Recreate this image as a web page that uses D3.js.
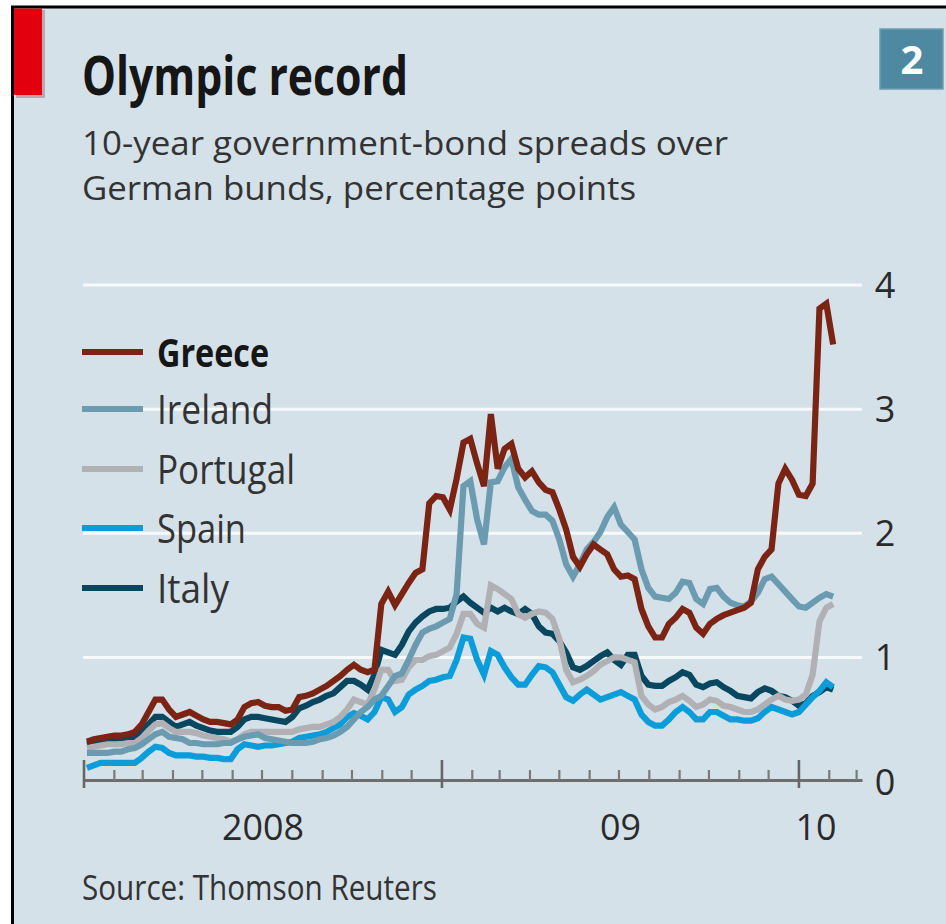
<!DOCTYPE html>
<html>
<head>
<meta charset="utf-8">
<script src="https://cdn.jsdelivr.net/npm/d3@7"></script>
<style>
  html, body { margin: 0; padding: 0; background: #ffffff; }
  svg { display: block; }
  text { font-family: "Open Sans", "Noto Sans", sans-serif; }
</style>
</head>
<body>
<svg id="chart" width="946" height="924"></svg>
<script>
// ---- Data: 10-year bond spreads over German bunds (percentage points), weekly from 4 Jan 2008 ----
const firstWeek = Date.UTC(2008, 0, 4);

const countries = ["Greece", "Ireland", "Portugal", "Spain", "Italy"];
const colours   = ["#7b2414", "#6a9bb0", "#b1b1b5", "#0a9dd9", "#07475f"];

const greece = [
  0.32,0.34,0.35,0.36,0.37,0.37,0.38,0.40,0.46,0.56,
  0.66,0.66,0.58,0.52,0.54,0.56,0.53,0.50,0.48,0.48,
  0.47,0.46,0.50,0.60,0.63,0.64,0.61,0.60,0.60,0.57,
  0.58,0.68,0.69,0.71,0.74,0.77,0.81,0.85,0.90,0.94,
  0.90,0.88,0.90,1.43,1.53,1.42,1.51,1.60,1.68,1.71,
  2.24,2.30,2.29,2.19,2.44,2.73,2.76,2.56,2.38,2.96,
  2.52,2.68,2.72,2.52,2.45,2.50,2.41,2.35,2.33,2.19,
  2.03,1.81,1.73,1.83,1.91,1.87,1.83,1.71,1.65,1.66,
  1.63,1.39,1.25,1.16,1.16,1.27,1.32,1.39,1.36,1.24,
  1.19,1.27,1.31,1.34,1.36,1.38,1.40,1.44,1.71,1.81,
  1.87,2.40,2.52,2.43,2.31,2.30,2.40,3.81,3.85,3.52
];
const ireland = [
  0.23,0.23,0.23,0.23,0.24,0.24,0.26,0.27,0.30,0.34,
  0.38,0.40,0.36,0.35,0.34,0.31,0.31,0.30,0.30,0.30,
  0.31,0.31,0.34,0.36,0.37,0.38,0.35,0.34,0.33,0.32,
  0.31,0.31,0.31,0.32,0.34,0.35,0.37,0.40,0.44,0.50,
  0.56,0.60,0.66,0.69,0.77,0.85,0.87,0.98,1.10,1.20,
  1.23,1.25,1.28,1.31,1.51,2.38,2.42,2.11,1.91,2.41,
  2.42,2.53,2.60,2.37,2.27,2.18,2.15,2.15,2.10,1.95,
  1.75,1.65,1.75,1.87,1.93,2.01,2.13,2.21,2.07,2.01,
  1.95,1.71,1.56,1.49,1.48,1.47,1.52,1.61,1.60,1.47,
  1.43,1.55,1.56,1.49,1.44,1.42,1.41,1.45,1.52,1.63,
  1.65,1.59,1.53,1.47,1.41,1.40,1.44,1.48,1.51,1.49
];
const portugal = [
  0.27,0.28,0.29,0.30,0.30,0.30,0.31,0.31,0.35,0.41,
  0.46,0.47,0.43,0.40,0.40,0.40,0.39,0.37,0.36,0.35,
  0.34,0.32,0.34,0.38,0.40,0.40,0.40,0.40,0.40,0.40,
  0.40,0.42,0.43,0.44,0.44,0.46,0.48,0.52,0.58,0.66,
  0.64,0.62,0.74,0.90,0.90,0.81,0.82,0.92,0.98,0.98,
  1.01,1.02,1.05,1.08,1.19,1.35,1.35,1.27,1.24,1.58,
  1.55,1.51,1.47,1.35,1.32,1.35,1.37,1.36,1.31,1.15,
  0.90,0.80,0.82,0.85,0.89,0.94,0.97,1.00,1.00,0.98,
  0.96,0.69,0.62,0.58,0.60,0.64,0.66,0.69,0.65,0.60,
  0.62,0.66,0.65,0.61,0.60,0.58,0.56,0.56,0.58,0.62,
  0.66,0.69,0.66,0.65,0.66,0.70,0.86,1.29,1.40,1.43
];
const spain = [
  0.11,0.13,0.15,0.15,0.15,0.15,0.15,0.15,0.19,0.24,
  0.28,0.27,0.23,0.21,0.21,0.21,0.20,0.20,0.19,0.19,
  0.18,0.18,0.26,0.30,0.29,0.28,0.29,0.29,0.30,0.31,
  0.32,0.35,0.36,0.37,0.38,0.40,0.43,0.46,0.52,0.55,
  0.53,0.50,0.56,0.68,0.66,0.56,0.60,0.70,0.74,0.77,
  0.81,0.82,0.84,0.85,0.98,1.16,1.15,0.98,0.86,1.05,
  1.02,0.92,0.84,0.78,0.78,0.86,0.93,0.92,0.88,0.78,
  0.68,0.65,0.70,0.74,0.70,0.66,0.68,0.70,0.72,0.69,
  0.66,0.54,0.48,0.45,0.45,0.50,0.56,0.60,0.56,0.50,
  0.50,0.56,0.56,0.53,0.50,0.50,0.49,0.49,0.51,0.56,
  0.60,0.58,0.56,0.54,0.56,0.62,0.68,0.73,0.80,0.76
];
const italy = [
  0.30,0.31,0.32,0.33,0.34,0.35,0.35,0.36,0.40,0.46,
  0.52,0.52,0.48,0.44,0.46,0.48,0.45,0.43,0.41,0.40,
  0.40,0.40,0.44,0.50,0.52,0.52,0.51,0.50,0.49,0.48,
  0.52,0.59,0.61,0.64,0.66,0.69,0.71,0.76,0.81,0.81,
  0.78,0.74,0.86,1.06,1.04,1.02,1.10,1.21,1.28,1.33,
  1.37,1.39,1.39,1.40,1.45,1.49,1.44,1.40,1.36,1.40,
  1.37,1.40,1.37,1.35,1.39,1.35,1.25,1.20,1.19,1.13,
  1.04,0.92,0.90,0.93,0.97,1.01,1.04,0.98,0.94,1.02,
  1.02,0.85,0.78,0.77,0.77,0.81,0.84,0.88,0.86,0.78,
  0.76,0.79,0.80,0.76,0.73,0.69,0.68,0.67,0.72,0.75,
  0.73,0.69,0.68,0.65,0.61,0.63,0.69,0.72,0.76,0.74
];

const seriesValues = [greece, ireland, portugal, spain, italy];
const yTicks = [0, 1, 2, 3, 4];
const yearLabels = ["2008", "09", "10"];

const title = "Olympic record";
const subtitle = ["10-year government-bond spreads over", "German bunds, percentage points"];
const source = "Source: Thomson Reuters";
const panelNumber = "2";

// ---- Build the weekly records ----
const dayMs = 86400000;
const weekDates = greece.map((_, i) => new Date(firstWeek + i * 7 * dayMs));
const series = countries.map((name, c) => ({
  name,
  colour: colours[c],
  points: seriesValues[c].map((v, i) => ({ date: weekDates[i], value: v }))
}));

// ---- Layout ----
const svg = d3.select("#chart");
const W = 946, H = 924;
const bg = "#d5e1e9";
const textDark = "#2a2a2a";

// panel background and frame
svg.append("rect").attr("x", 12).attr("y", 6).attr("width", W - 12).attr("height", H - 6).attr("fill", bg);
svg.append("line").attr("x1", 11).attr("x2", W).attr("y1", 7).attr("y2", 7)
  .attr("stroke", "#000").attr("stroke-width", 3);
svg.append("line").attr("x1", 12.5).attr("x2", 12.5).attr("y1", 6).attr("y2", H)
  .attr("stroke", "#000").attr("stroke-width", 3);

// red corner tag with soft shadow
svg.append("rect").attr("x", 16).attr("y", 10).attr("width", 29).attr("height", 88).attr("fill", "#b9a9ad");
svg.append("rect").attr("x", 14).attr("y", 8.5).attr("width", 28).attr("height", 86.5).attr("fill", "#e2000f");

// panel number box
svg.append("rect").attr("x", 880).attr("y", 29).attr("width", 63).attr("height", 60)
  .attr("fill", "#4f89a1").attr("stroke", "#6e9db1").attr("stroke-width", 1.5);
svg.append("text").attr("x", 912).attr("y", 74).attr("text-anchor", "middle")
  .attr("font-size", 40).attr("font-weight", 700).attr("fill", "#ffffff").text(panelNumber);

function fit(sel, len) {
  return sel.attr("textLength", len).attr("lengthAdjust", "spacingAndGlyphs");
}

// titles
fit(svg.append("text").attr("x", 82).attr("y", 95).attr("font-size", 53).attr("font-weight", 700)
  .attr("fill", "#161616").text(title), 326);
fit(svg.append("text").attr("x", 82).attr("y", 155).attr("font-size", 33)
  .attr("fill", "#333333").text(subtitle[0]), 646);
fit(svg.append("text").attr("x", 82).attr("y", 200).attr("font-size", 33)
  .attr("fill", "#333333").text(subtitle[1]), 554);

// source
fit(svg.append("text").attr("x", 82).attr("y", 900).attr("font-size", 34)
  .attr("fill", "#333333").text(source), 355);

// ---- Scales ----
const x = d3.scaleUtc()
  .domain([new Date(Date.UTC(2008, 0, 1)), new Date(Date.UTC(2010, 2, 7))])
  .range([84, 862.5]);
const y = d3.scaleLinear().domain([0, 4]).range([781.5, 285]);

// horizontal gridlines (white)
svg.append("g").selectAll("line")
  .data(yTicks.filter(d => d > 0))
  .join("line")
  .attr("x1", 83).attr("x2", 862)
  .attr("y1", d => y(d)).attr("y2", d => y(d))
  .attr("stroke", "#f7fafc").attr("stroke-width", 3);

// right-hand value labels
svg.append("g").selectAll("text")
  .data(yTicks)
  .join("text")
  .attr("x", 885).attr("y", d => y(d) + 13)
  .attr("text-anchor", "middle")
  .attr("font-size", 36).attr("fill", textDark)
  .text(d => d);

// ---- Data lines (Italy first, Greece on top) ----
const line = d3.line().x(d => x(d.date)).y(d => y(d.value)).curve(d3.curveLinear);
svg.append("g").selectAll("path")
  .data(series.slice().reverse())
  .join("path")
  .attr("d", d => line(d.points))
  .attr("fill", "none")
  .attr("stroke", d => d.colour)
  .attr("stroke-width", 6.2)
  .attr("stroke-linejoin", "miter")
  .attr("stroke-miterlimit", 3);

// ---- Time axis along zero ----
const axisG = svg.append("g");
const monthTicks = x.ticks(d3.utcMonth.every(1))
  .filter(d => d.getUTCMonth() !== 0);
const yearTicks = x.ticks(d3.utcYear.every(1));

axisG.append("line").attr("x1", 83).attr("x2", 862.5)
  .attr("y1", 780.5).attr("y2", 780.5)
  .attr("stroke", "#6e6e6e").attr("stroke-width", 3);
axisG.selectAll("line.m").data(monthTicks).join("line").attr("class", "m")
  .attr("x1", d => x(d)).attr("x2", d => x(d))
  .attr("y1", 770).attr("y2", 780)
  .attr("stroke", "#7a7a7a").attr("stroke-width", 2.2);
axisG.selectAll("line.yr").data(yearTicks).join("line").attr("class", "yr")
  .attr("x1", d => x(d)).attr("x2", d => x(d))
  .attr("y1", 760).attr("y2", 788)
  .attr("stroke", "#666666").attr("stroke-width", 2.6);

// year labels centred on the visible part of each year
const lastDate = weekDates[weekDates.length - 1];
const yearSpans = yearTicks.map(d => {
  const next = d3.utcYear.offset(d, 1);
  return [d, next < lastDate ? next : lastDate];
});
const yearWidths = [82, 41, 41];
yearSpans.forEach((span, i) => {
  fit(svg.append("text")
    .attr("x", (x(span[0]) + x(span[1])) / 2)
    .attr("y", 840)
    .attr("text-anchor", "middle")
    .attr("font-size", 36).attr("fill", textDark)
    .text(yearLabels[i]), yearWidths[i]);
});

// ---- Legend ----
const legendY = [352, 409, 469, 528, 588];
const legendWidths = [112, 116, 138, 89, 72];
const legend = svg.append("g");
series.forEach((s, i) => {
  legend.append("line")
    .attr("x1", 82).attr("x2", 143)
    .attr("y1", legendY[i]).attr("y2", legendY[i])
    .attr("stroke", s.colour).attr("stroke-width", 6);
  fit(legend.append("text")
    .attr("x", 157).attr("y", legendY[i] + 14.5)
    .attr("font-size", 40)
    .attr("font-weight", i === 0 ? 700 : 400)
    .attr("fill", i === 0 ? "#161616" : "#333333")
    .text(s.name), legendWidths[i]);
});
</script>
</body>
</html>
